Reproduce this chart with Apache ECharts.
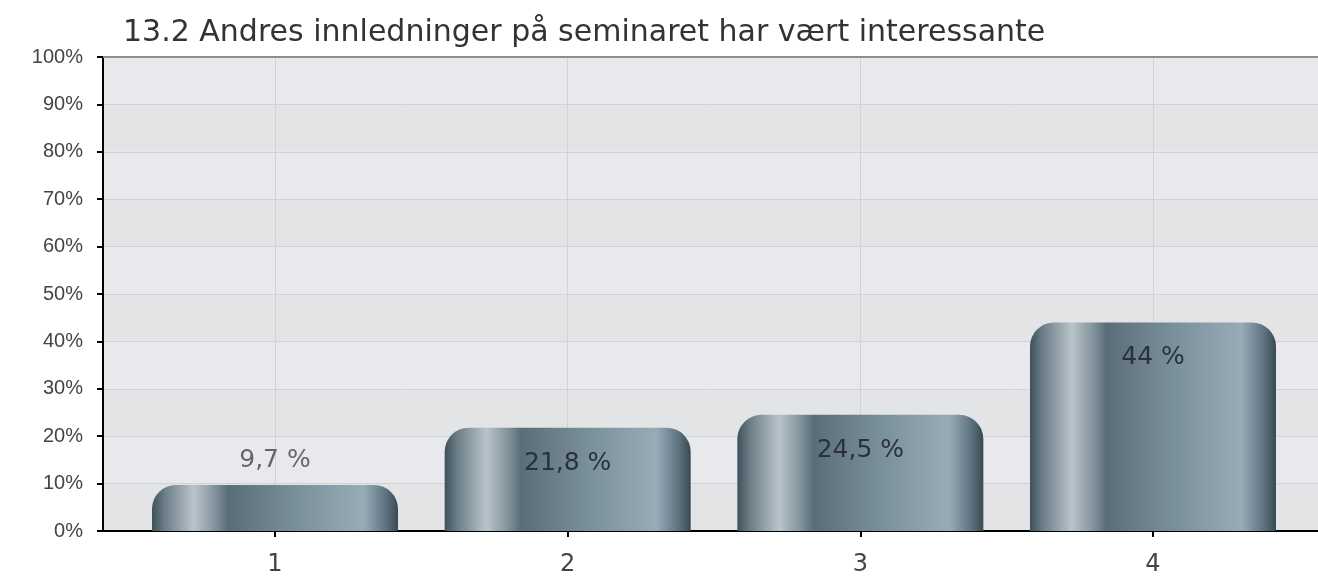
<!DOCTYPE html>
<html>
<head>
<meta charset="utf-8">
<script src="https://cdn.jsdelivr.net/npm/echarts@6/dist/echarts.min.js"></script>
<style>
  html, body { margin: 0; padding: 0; background: #fff; }
  #app { width: 1318px; height: 579px; }
</style>
</head>
<body>
<div id="app"></div>
<script>
const title = "13.2 Andres innledninger på seminaret har vært interessante";
const categories = ["1", "2", "3", "4"];
const values = [9.7, 21.8, 24.5, 44];
const valueLabels = ["9,7 %", "21,8 %", "24,5 %", "44 %"];

const chart = echarts.init(document.getElementById("app"));

// cylinder-like shading across the bar
const barFill = new echarts.graphic.LinearGradient(0, 0, 1, 0, [
  { offset: 0, color: "#3e515b" },
  { offset: 0.05, color: "#6b7d87" },
  { offset: 0.17, color: "#bac3ca" },
  { offset: 0.25, color: "#8797a0" },
  { offset: 0.31, color: "#5a6e79" },
  { offset: 0.6, color: "#7b919c" },
  { offset: 0.86, color: "#98acb8" },
  { offset: 0.95, color: "#5e7380" },
  { offset: 1, color: "#394952" },
]);

const wide = "DejaVu Sans, Verdana, sans-serif";
const plain = "'Liberation Sans', Arial, sans-serif";

const barData = values.map((v, i) => {
  const outside = v < 15;
  return {
    value: v,
    label: {
      formatter: valueLabels[i],
      position: outside ? "top" : "insideTop",
      distance: outside ? 12 : 23,
      color: outside ? "#666" : "#2b3136",
    },
  };
});

chart.setOption({
  animation: false,
  title: {
    text: title,
    left: 118,
    top: 13,
    textStyle: { fontFamily: wide, fontSize: 30, fontWeight: "normal", color: "#333" },
  },
  grid: [
    { left: 103, right: 0, top: 57, bottom: 48 },
    { left: 275, right: 165, top: 57, bottom: 48 },
  ],
  xAxis: [
    {
      gridIndex: 0,
      type: "value",
      min: 0,
      max: 1,
      axisLine: { show: true, lineStyle: { color: "#000", width: 2 } },
      axisTick: { show: false },
      axisLabel: { show: false },
      splitLine: { show: false },
    },
    {
      gridIndex: 1,
      type: "category",
      data: categories,
      boundaryGap: false,
      axisLine: { show: false },
      axisTick: { show: true, length: 6, lineStyle: { color: "#000", width: 2 } },
      axisLabel: { margin: 22, fontFamily: wide, fontSize: 24, color: "#444" },
      splitLine: { show: true, lineStyle: { color: "#d2d2d2", width: 1 } },
    },
    {
      gridIndex: 0,
      type: "value",
      position: "top",
      min: 0,
      max: 1,
      axisLine: { show: true, lineStyle: { color: "#8e8e8e", width: 2 } },
      axisTick: { show: false },
      axisLabel: { show: false },
      splitLine: { show: false },
    },
  ],
  yAxis: [
    {
      gridIndex: 0,
      type: "value",
      min: 0,
      max: 100,
      interval: 10,
      axisLine: { show: true, lineStyle: { color: "#000", width: 2 } },
      axisTick: { show: true, length: 6, lineStyle: { color: "#000", width: 2 } },
      axisLabel: { formatter: "{value}%", margin: 20, fontFamily: plain, fontSize: 20, color: "#444" },
      splitLine: { show: true, lineStyle: { color: "#d2d2d2", width: 1 } },
      splitArea: { show: true, areaStyle: { color: ["#e3e4e6", "#e7e9ec"] } },
    },
    {
      gridIndex: 1,
      type: "value",
      min: 0,
      max: 100,
      show: false,
    },
  ],
  series: [
    {
      type: "bar",
      xAxisIndex: 1,
      yAxisIndex: 1,
      data: barData,
      barWidth: 246,
      clip: false,
      itemStyle: { color: barFill, borderRadius: [24, 24, 0, 0] },
      label: { show: true, fontFamily: wide, fontSize: 25 },
    },
  ],
});
</script>
</body>
</html>
